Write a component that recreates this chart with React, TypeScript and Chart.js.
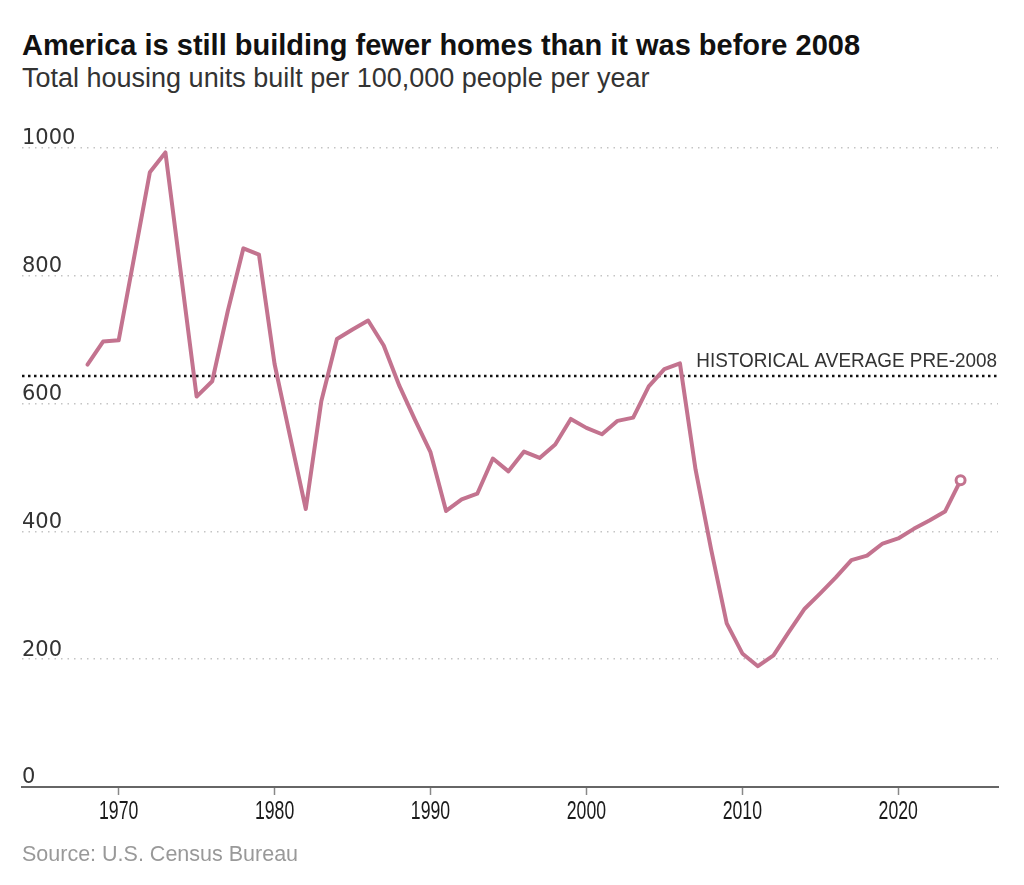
import React, { useEffect, useRef } from 'react';
import { Chart, registerables } from 'chart.js';

Chart.register(...registerables);

const TITLE = 'America is still building fewer homes than it was before 2008';
const SUBTITLE = 'Total housing units built per 100,000 people per year';
const SOURCE = 'Source: U.S. Census Bureau';

const YEARS = [
  1968, 1969, 1970, 1971, 1972, 1973, 1974, 1975, 1976, 1977,
  1978, 1979, 1980, 1981, 1982, 1983, 1984, 1985, 1986, 1987,
  1988, 1989, 1990, 1991, 1992, 1993, 1994, 1995, 1996, 1997,
  1998, 1999, 2000, 2001, 2002, 2003, 2004, 2005, 2006, 2007,
  2008, 2009, 2010, 2011, 2012, 2013, 2014, 2015, 2016, 2017,
  2018, 2019, 2020, 2021, 2022, 2023, 2024,
];

const UNITS_PER_100K = [
  661, 697, 699, 830, 962, 993, 802, 611, 635, 745,
  843, 833, 662, 548, 435, 604, 701, 716, 730, 691,
  628, 575, 524, 432, 450, 459, 514, 494, 525, 515,
  536, 576, 562, 552, 573, 578, 627, 654, 663, 497,
  372, 256, 209, 189, 206, 243, 279, 303, 328, 355,
  362, 381, 389, 404, 417, 431, 480,
];

const X_TICKS = [1970, 1980, 1990, 2000, 2010, 2020];
const Y_TICKS = [0, 200, 400, 600, 800, 1000];
const X_MIN = 1963.8;
const X_MAX = 2026.4;
const Y_MIN = 0;
const Y_MAX = 1000;

const HIST_AVG = 643;
const HIST_LABEL = 'HISTORICAL AVERAGE PRE-2008';

const LINE_COLOR = '#c3738f';
const SANS = '"Liberation Sans", Arial, sans-serif';
const WIDE = '"DejaVu Sans", Verdana, sans-serif';

function condensedText(ctx: any, text: string, x: number, y: number, sx: number) {
  ctx.save();
  ctx.translate(x, y);
  ctx.scale(sx, 1);
  ctx.fillText(text, 0, 0);
  ctx.restore();
}

const refLinePlugin = {
  id: 'refLine',
  beforeDatasetsDraw(chart: any) {
    const { ctx, chartArea, scales } = chart;
    const y = scales.y.getPixelForValue(HIST_AVG);
    ctx.save();
    ctx.strokeStyle = '#111';
    ctx.lineWidth = 2.5;
    ctx.setLineDash([2.5, 3.5]);
    ctx.beginPath();
    ctx.moveTo(chartArea.left, y);
    ctx.lineTo(chartArea.right, y);
    ctx.stroke();
    ctx.setLineDash([]);
    ctx.fillStyle = '#333';
    ctx.font = `21px ${SANS}`;
    ctx.textAlign = 'right';
    ctx.textBaseline = 'alphabetic';
    condensedText(ctx, HIST_LABEL, chartArea.right - 1, y - 9, 0.9);
    ctx.restore();
  },
};

const xLabelPlugin = {
  id: 'xLabels',
  afterDraw(chart: any) {
    const { ctx, scales } = chart;
    const xs = scales.x;
    ctx.save();
    ctx.fillStyle = '#1a1a1a';
    ctx.font = `26px ${SANS}`;
    ctx.textAlign = 'center';
    ctx.textBaseline = 'alphabetic';
    xs.ticks.forEach((t: any) => {
      const px = xs.getPixelForValue(t.value);
      condensedText(ctx, String(t.value), px, xs.top + 32, 0.68);
    });
    ctx.restore();
  },
};

export default function App() {
  const canvasRef = useRef<HTMLCanvasElement | null>(null);

  useEffect(() => {
    const canvas = canvasRef.current;
    if (!canvas) return;
    const last = YEARS.length - 1;
    const chart = new Chart(canvas, {
      type: 'line',
      data: {
        datasets: [
          {
            data: YEARS.map((yr, i) => ({ x: yr, y: UNITS_PER_100K[i] })),
            borderColor: LINE_COLOR,
            borderWidth: 4,
            borderJoinStyle: 'round',
            borderCapStyle: 'round',
            tension: 0,
            fill: false,
            pointRadius: (c: any) => (c.dataIndex === last ? 4.5 : 0),
            pointHoverRadius: (c: any) => (c.dataIndex === last ? 4.5 : 0),
            pointBackgroundColor: '#ffffff',
            pointBorderColor: LINE_COLOR,
            pointBorderWidth: 3,
            clip: false as any,
          },
        ],
      },
      options: {
        animation: false,
        responsive: false,
        maintainAspectRatio: false,
        layout: { padding: { left: 22, right: 26, top: 148, bottom: 38 } },
        plugins: {
          legend: { display: false },
          tooltip: { enabled: false },
        },
        events: [],
        scales: {
          x: {
            type: 'linear',
            min: X_MIN,
            max: X_MAX,
            afterBuildTicks: (axis: any) => {
              axis.ticks = X_TICKS.map((v) => ({ value: v }));
            },
            afterFit: (axis: any) => {
              axis.height = 60;
            },
            ticks: {
              display: false,
              callback: (v: any) => String(v),
              autoSkip: false,
            },
            grid: {
              drawOnChartArea: false,
              drawTicks: true,
              tickLength: 8,
              tickColor: '#888',
              tickWidth: 1.5,
            },
            border: { display: true, color: '#666', width: 2 },
          },
          y: {
            type: 'linear',
            min: Y_MIN,
            max: Y_MAX,
            afterBuildTicks: (axis: any) => {
              axis.ticks = Y_TICKS.map((v) => ({ value: v }));
            },
            afterFit: (axis: any) => {
              axis.width = 0;
            },
            ticks: {
              mirror: true,
              padding: 0,
              labelOffset: -9,
              callback: (v: any) => String(v),
              font: { family: WIDE, size: 21 },
              color: '#333',
            },
            grid: {
              drawTicks: false,
              color: (c: any) => (c.tick && c.tick.value === 0 ? 'rgba(0,0,0,0)' : '#c4c4c4'),
              lineWidth: 1.5,
            },
            border: { display: false, dash: [1.5, 5] },
          },
        },
      },
      plugins: [refLinePlugin, xLabelPlugin],
    });
    return () => chart.destroy();
  }, []);

  return (
    <div style={{ position: 'absolute', left: 0, top: 0, width: 1024, height: 885, background: '#fff' }}>
      <div
        style={{
          position: 'absolute',
          left: 22,
          top: 31,
          fontFamily: SANS,
          fontWeight: 700,
          fontSize: 29,
          lineHeight: 1,
          color: '#111',
          whiteSpace: 'nowrap',
        }}
      >
        {TITLE}
      </div>
      <div
        style={{
          position: 'absolute',
          left: 22,
          top: 65,
          fontFamily: SANS,
          fontSize: 27,
          lineHeight: 1,
          color: '#333',
          whiteSpace: 'nowrap',
        }}
      >
        {SUBTITLE}
      </div>
      <canvas
        ref={canvasRef}
        width={1024}
        height={885}
        style={{ position: 'absolute', left: 0, top: 0, width: 1024, height: 885 }}
      />
      <div
        style={{
          position: 'absolute',
          left: 22,
          top: 844,
          fontFamily: SANS,
          fontSize: 21.5,
          lineHeight: 1,
          color: '#999',
          whiteSpace: 'nowrap',
        }}
      >
        {SOURCE}
      </div>
    </div>
  );
}
